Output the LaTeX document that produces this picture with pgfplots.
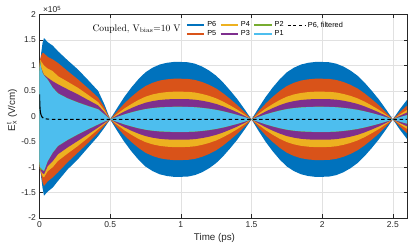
\documentclass[border=0pt]{standalone}
\usepackage{fontspec}
\newfontfamily\hel{Liberation Sans}
\usepackage{pgfplots}
\pgfplotsset{compat=1.18}
\usepackage{pgfplotstable}
\usepgfplotslibrary{fillbetween}

\definecolor{cA}{RGB}{0,114,189}
\definecolor{cB}{RGB}{217,83,25}
\definecolor{cC}{RGB}{237,177,32}
\definecolor{cD}{RGB}{126,47,142}
\definecolor{cE}{RGB}{119,172,48}
\definecolor{cF}{RGB}{77,190,238}
\definecolor{gridgray}{RGB}{225,225,225}
\definecolor{axgray}{RGB}{38,38,38}

% envelopes (units of 1e5 V/cm): upper/lower edge of each oscillating series
\pgfplotstableread{
t     u6     l6     u5     l5     u4     l4     u3     l3     u2     l2     u1     l1
0     0.85   -0.90  1.00   -0.95  1.00   -0.95  0.95   -0.95  0.95   -0.95  0.90   -0.90
0.004 1.00   -1.00  1.12   -1.05  1.12   -1.05  1.08   -1.05  1.10   -1.05  1.05   -1.00
0.012 1.25   -1.20  1.20   -1.15  1.08   -1.10  0.95   -1.08  0.95   -1.05  0.95   -1.02
0.022 1.45   -1.42  1.25   -1.30  1.04   -1.18  0.88   -1.12  0.86   -1.06  0.85   -1.05
0.032 1.54   -1.56  1.24   -1.37  1.00   -1.20  0.82   -1.14  0.81   -1.08  0.80   -1.07
0.058 1.46   -1.48  1.17   -1.28  0.94   -1.08  0.76   -0.98  0.725  -0.885 0.72   -0.88
0.094 1.39   -1.40  1.12   -1.20  0.89   -1.00  0.69   -0.88  0.565  -0.715 0.56   -0.71
0.131 1.28   -1.27  1.05   -1.10  0.79   -0.876 0.63   -0.745 0.455  -0.585 0.45   -0.58
0.2   1.10   -1.04  0.89   -0.90  0.68   -0.73  0.53   -0.61  0.355  -0.465 0.35   -0.46
0.273 0.92   -0.84  0.725  -0.71  0.56   -0.58  0.43   -0.48  0.275  -0.355 0.27   -0.35
0.345 0.71   -0.61  0.55   -0.52  0.42   -0.42  0.32   -0.35  0.205  -0.255 0.20   -0.25
0.415 0.50   -0.39  0.37   -0.32  0.28   -0.255 0.215  -0.22  0.141  -0.161 0.137  -0.157
0.46  0.23   -0.22  0.17   -0.18  0.12   -0.15  0.08   -0.13  0.038  -0.103 0.035  -0.10
0.5   -0.06  -0.06  -0.06  -0.06  -0.06  -0.06  -0.06  -0.06  -0.06  -0.06  -0.06  -0.06
0.55  0.166  -0.286 0.10   -0.22  0.049  -0.169 0.02   -0.14  -0.010 -0.110 -0.011 -0.109
0.60  0.381  -0.501 0.252  -0.372 0.153  -0.273 0.096  -0.216 0.039  -0.159 0.036  -0.156
0.65  0.567  -0.687 0.384  -0.504 0.242  -0.362 0.162  -0.282 0.080  -0.200 0.076  -0.196
0.70  0.731  -0.851 0.50   -0.62  0.322  -0.442 0.22   -0.34  0.116  -0.236 0.112  -0.232
0.75  0.867  -0.987 0.596  -0.716 0.387  -0.507 0.268  -0.388 0.145  -0.265 0.141  -0.261
0.80  0.957  -1.077 0.66   -0.78  0.431  -0.551 0.30   -0.42  0.165  -0.285 0.161  -0.281
0.85  1.019  -1.139 0.704  -0.824 0.46   -0.58  0.322  -0.442 0.178  -0.298 0.174  -0.294
0.90  1.053  -1.173 0.728  -0.848 0.477  -0.597 0.334  -0.454 0.185  -0.305 0.181  -0.301
0.95  1.07   -1.19  0.74   -0.86  0.485  -0.605 0.34   -0.46  0.189  -0.309 0.185  -0.305
1.00  1.07   -1.19  0.74   -0.86  0.485  -0.605 0.34   -0.46  0.189  -0.309 0.185  -0.305
1.05  1.064  -1.184 0.736  -0.856 0.482  -0.602 0.338  -0.458 0.188  -0.308 0.184  -0.304
1.10  1.036  -1.156 0.716  -0.836 0.469  -0.589 0.328  -0.448 0.182  -0.302 0.178  -0.298
1.15  0.98   -1.10  0.676  -0.796 0.441  -0.561 0.308  -0.428 0.169  -0.289 0.165  -0.285
1.20  0.901  -1.021 0.62   -0.74  0.403  -0.523 0.28   -0.40  0.152  -0.272 0.148  -0.268
1.25  0.799  -0.919 0.548  -0.668 0.354  -0.474 0.244  -0.364 0.130  -0.250 0.126  -0.246
1.30  0.663  -0.783 0.452  -0.572 0.289  -0.409 0.196  -0.316 0.101  -0.221 0.097  -0.217
1.35  0.505  -0.625 0.34   -0.46  0.213  -0.333 0.14   -0.26  0.066  -0.186 0.063  -0.183
1.40  0.336  -0.456 0.22   -0.34  0.131  -0.251 0.08   -0.20  0.028  -0.148 0.026  -0.146
1.45  0.143  -0.263 0.084  -0.204 0.038  -0.158 0.012  -0.132 -0.015 -0.105 -0.016 -0.104
1.50  -0.06  -0.06  -0.06  -0.06  -0.06  -0.06  -0.06  -0.06  -0.06  -0.06  -0.06  -0.06
1.55  0.166  -0.286 0.10   -0.22  0.049  -0.169 0.02   -0.14  -0.010 -0.110 -0.011 -0.109
1.60  0.381  -0.501 0.252  -0.372 0.153  -0.273 0.096  -0.216 0.039  -0.159 0.036  -0.156
1.65  0.567  -0.687 0.384  -0.504 0.242  -0.362 0.162  -0.282 0.080  -0.200 0.076  -0.196
1.70  0.731  -0.851 0.50   -0.62  0.322  -0.442 0.22   -0.34  0.116  -0.236 0.112  -0.232
1.75  0.867  -0.987 0.596  -0.716 0.387  -0.507 0.268  -0.388 0.145  -0.265 0.141  -0.261
1.80  0.957  -1.077 0.66   -0.78  0.431  -0.551 0.30   -0.42  0.165  -0.285 0.161  -0.281
1.85  1.019  -1.139 0.704  -0.824 0.46   -0.58  0.322  -0.442 0.178  -0.298 0.174  -0.294
1.90  1.053  -1.173 0.728  -0.848 0.477  -0.597 0.334  -0.454 0.185  -0.305 0.181  -0.301
1.95  1.07   -1.19  0.74   -0.86  0.485  -0.605 0.34   -0.46  0.189  -0.309 0.185  -0.305
2.00  1.07   -1.19  0.74   -0.86  0.485  -0.605 0.34   -0.46  0.189  -0.309 0.185  -0.305
2.05  1.064  -1.184 0.736  -0.856 0.482  -0.602 0.338  -0.458 0.188  -0.308 0.184  -0.304
2.10  1.036  -1.156 0.716  -0.836 0.469  -0.589 0.328  -0.448 0.182  -0.302 0.178  -0.298
2.15  0.98   -1.10  0.676  -0.796 0.441  -0.561 0.308  -0.428 0.169  -0.289 0.165  -0.285
2.20  0.901  -1.021 0.62   -0.74  0.403  -0.523 0.28   -0.40  0.152  -0.272 0.148  -0.268
2.25  0.799  -0.919 0.548  -0.668 0.354  -0.474 0.244  -0.364 0.130  -0.250 0.126  -0.246
2.30  0.663  -0.783 0.452  -0.572 0.289  -0.409 0.196  -0.316 0.101  -0.221 0.097  -0.217
2.35  0.505  -0.625 0.34   -0.46  0.213  -0.333 0.14   -0.26  0.066  -0.186 0.063  -0.183
2.40  0.336  -0.456 0.22   -0.34  0.131  -0.251 0.08   -0.20  0.028  -0.148 0.026  -0.146
2.45  0.143  -0.263 0.084  -0.204 0.038  -0.158 0.012  -0.132 -0.015 -0.105 -0.016 -0.104
2.50  -0.06  -0.06  -0.06  -0.06  -0.06  -0.06  -0.06  -0.06  -0.06  -0.06  -0.06  -0.06
2.55  0.143  -0.263 0.084  -0.204 0.038  -0.158 0.012  -0.132 -0.015 -0.105 -0.016 -0.104
2.60  0.324  -0.444 0.212  -0.332 0.125  -0.245 0.076  -0.196 0.025  -0.145 0.023  -0.143
}\env

\begin{document}
\begin{tikzpicture}
\begin{axis}[
  width=367.5pt, height=203.3pt, scale only axis,
  xmin=0, xmax=2.6, ymin=-2, ymax=2,
  xtick={0,0.5,1,1.5,2,2.5}, xticklabels={0,0.5,1,1.5,2,2.5},
  ytick={-2,-1.5,-1,-0.5,0,0.5,1,1.5,2},
  yticklabels={-2,-1.5,-1,-0.5,0,0.5,1,1.5,2},
  tick label style={font=\hel\fontsize{8.5}{10}\selectfont, text=axgray},
  tick align=inside, major tick length=3.5pt,
  xtick pos=both, ytick pos=both,
  grid=major, major grid style={color=gridgray, line width=0.5pt},
  axis line style={color=axgray, line width=0.5pt},
  every tick/.style={color=axgray, line width=0.5pt},
  legend columns=4,
  legend cell align=left,
  legend image code/.code={\draw[#1] (0pt,0pt) -- (17.5pt,0pt);},
  legend style={at={(0.398,0.976)}, anchor=north west, draw=none, fill=none,
    font=\hel\fontsize{7.3}{8.5}\selectfont, inner sep=0pt, row sep=-2pt,
    /tikz/every even column/.append style={column sep=1.5pt}},
]
\addplot[draw=none, name path=u6, forget plot] table[x=t,y=u6]{\env};
\addplot[draw=none, name path=l6, forget plot] table[x=t,y=l6]{\env};
\addplot[cA, forget plot] fill between[of=u6 and l6];
\addplot[draw=none, name path=u5, forget plot] table[x=t,y=u5]{\env};
\addplot[draw=none, name path=l5, forget plot] table[x=t,y=l5]{\env};
\addplot[cB, forget plot] fill between[of=u5 and l5];
\addplot[draw=none, name path=u4, forget plot] table[x=t,y=u4]{\env};
\addplot[draw=none, name path=l4, forget plot] table[x=t,y=l4]{\env};
\addplot[cC, forget plot] fill between[of=u4 and l4];
\addplot[draw=none, name path=u3, forget plot] table[x=t,y=u3]{\env};
\addplot[draw=none, name path=l3, forget plot] table[x=t,y=l3]{\env};
\addplot[cD, forget plot] fill between[of=u3 and l3];
\addplot[draw=none, name path=u2, forget plot] table[x=t,y=u2]{\env};
\addplot[draw=none, name path=l2, forget plot] table[x=t,y=l2]{\env};
\addplot[cE, forget plot] fill between[of=u2 and l2];
\addplot[draw=none, name path=u1, forget plot] table[x=t,y=u1]{\env};
\addplot[draw=none, name path=l1, forget plot] table[x=t,y=l1]{\env};
\addplot[cF, forget plot] fill between[of=u1 and l1];
% P6, filtered
\addplot[black, line width=1.1pt, forget plot] coordinates {
 (0,0.43) (0.002,0.25) (0.004,0.14) (0.007,0.07) (0.012,0.02)};
\addplot[black, line width=1.1pt, dash pattern=on 3.5pt off 2.6pt, forget plot] coordinates {
 (0.012,0.02) (0.02,-0.02) (0.035,-0.045) (0.06,-0.055) (0.1,-0.06) (2.6,-0.06)};
\addlegendimage{color=cA, line width=1.8pt}\addlegendentry{P6}
\addlegendimage{color=cC, line width=1.8pt}\addlegendentry{P4}
\addlegendimage{color=cE, line width=1.8pt}\addlegendentry{P2}
\addlegendimage{color=black, line width=1.3pt, dash pattern=on 3pt off 2.6pt}\addlegendentry{P6, filtered}
\addlegendimage{color=cB, line width=1.8pt}\addlegendentry{P5}
\addlegendimage{color=cD, line width=1.8pt}\addlegendentry{P3}
\addlegendimage{color=cF, line width=1.8pt}\addlegendentry{P1}
\coordinate (BL) at (rel axis cs:0,0);
\end{axis}
\begin{scope}[shift={(BL)}, x=1pt, y=1pt]
\node[anchor=west, font=\rmfamily\fontsize{9.5}{11}\selectfont] at (49.5,189) {Coupled, V$_{\mathrm{bias}}$=10 V};
\node[anchor=base west, font=\hel\fontsize{8.5}{10}\selectfont, text=axgray] at (0,205) {×10\textsuperscript{5}};
\node[rotate=90, font=\hel\fontsize{9.8}{11}\selectfont, text=axgray] at (-27.5,108) {E\rlap{\textsuperscript{t}}\textsubscript{x} (V/cm)};
\node[font=\hel\fontsize{9.8}{11}\selectfont, text=axgray] at (175,-19.5) {Time (ps)};
\pgfresetboundingbox
\useasboundingbox (-39.5,-27) rectangle (375.5,218);
\end{scope}
\end{tikzpicture}
\end{document}
